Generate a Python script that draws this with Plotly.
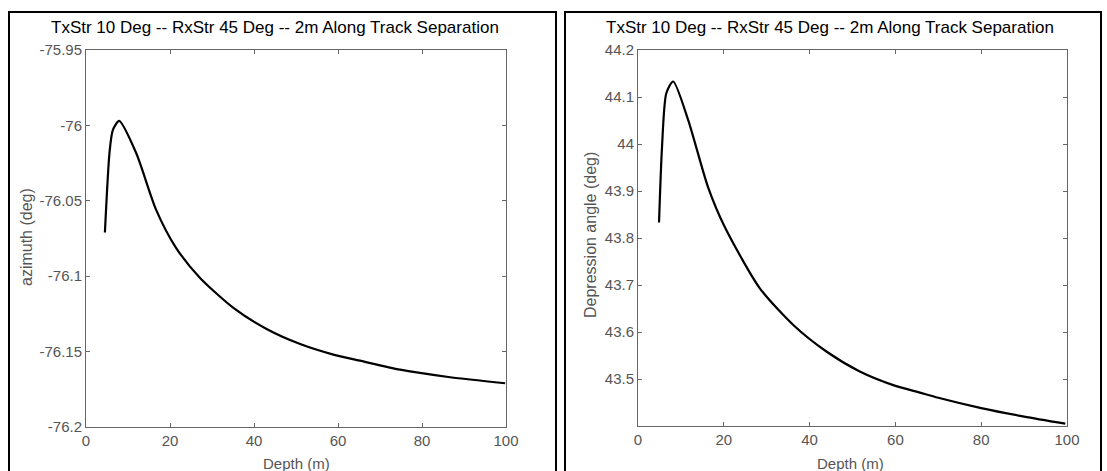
import plotly.graph_objects as go

# values
depth_az = [4.5, 5.6, 6.4, 7.9, 11.9, 16.7, 21.4, 27.1, 35.1, 43.0, 51.0,
            58.9, 65.2, 74.8, 86.7, 99.8]
azimuth = [-76.071, -76.018, -76.003, -75.997, -76.018, -76.056, -76.081, -76.101,
           -76.121, -76.135, -76.145, -76.152, -76.156, -76.162, -76.167, -76.171]

depth_dep = [4.9, 5.6, 6.6, 8.2, 11.7, 16.3, 20.2, 28.4, 36.2, 44.0, 51.7,
             59.5, 65.7, 70.0, 80.0, 90.0, 99.6]
depression = [43.833, 43.994, 44.108, 44.133, 44.051, 43.909, 43.824, 43.693,
              43.615, 43.558, 43.516, 43.487, 43.471, 43.460, 43.438, 43.420,
              43.405]

title = "TxStr 10 Deg -- RxStr 45 Deg -- 2m Along Track Separation"
az_ticks = [-75.95, -76, -76.05, -76.1, -76.15, -76.2]
dep_ticks = [43.5, 43.6, 43.7, 43.8, 43.9, 44, 44.1, 44.2]
x_ticks = [0, 20, 40, 60, 80, 100]

W, H = 1107, 471
font = "Liberation Sans, Arial, sans-serif"
gray = "#555555"


def px(x):
    return x / W


def py(y):
    return 1 - y / H


fig = go.Figure()
fig.add_trace(go.Scatter(x=depth_az, y=azimuth, mode="lines", xaxis="x", yaxis="y",
                         line=dict(color="black", width=2.2, shape="spline", smoothing=0.7)))
fig.add_trace(go.Scatter(x=depth_dep, y=depression, mode="lines", xaxis="x2", yaxis="y2",
                         line=dict(color="black", width=2.2, shape="spline", smoothing=0.7)))

axis_style = dict(showgrid=False, zeroline=False, showline=True, linecolor="#666666",
                  linewidth=1, mirror="ticks", ticks="inside", ticklen=4, tickcolor="#666666",
                  tickfont=dict(family=font, size=15, color=gray))

fig.update_layout(
    width=W, height=H, margin=dict(l=0, r=0, t=0, b=0, autoexpand=False),
    paper_bgcolor="white", plot_bgcolor="white", showlegend=False,
    xaxis=dict(domain=[px(86), px(506)], range=[0, 100], tickvals=x_ticks,
               anchor="y", **axis_style),
    yaxis=dict(domain=[py(427), py(50)], range=[-76.2, -75.95], tickvals=az_ticks,
               ticktext=[str(v) for v in az_ticks], anchor="x", **axis_style),
    xaxis2=dict(domain=[px(638), px(1067)], range=[0, 100], tickvals=x_ticks,
                anchor="y2", **axis_style),
    yaxis2=dict(domain=[py(426), py(50)], range=[43.4, 44.2], tickvals=dep_ticks,
                ticktext=[str(v) for v in dep_ticks], anchor="x2", **axis_style),
)

# panel frames
fig.add_shape(type="rect", xref="paper", yref="paper", x0=px(9), x1=px(556),
              y0=py(472), y1=py(12), line=dict(color="black", width=2))
fig.add_shape(type="rect", xref="paper", yref="paper", x0=px(565), x1=px(1101),
              y0=py(472), y1=py(12), line=dict(color="black", width=2))

ann = []
for cx in (275, 830):
    ann.append(dict(x=px(cx), y=py(28), text=title, showarrow=False,
                    font=dict(family=font, size=17, color="black")))
for cx in (296, 850):
    ann.append(dict(x=px(cx), y=py(463), text="Depth (m)", showarrow=False,
                    font=dict(family=font, size=15, color=gray)))
ann.append(dict(x=px(26), y=py(237), text="azimuth (deg)", textangle=-90,
                showarrow=False, font=dict(family=font, size=16, color=gray)))
ann.append(dict(x=px(590), y=py(235), text="Depression angle (deg)", textangle=-90,
                showarrow=False, font=dict(family=font, size=16, color=gray)))
for a in ann:
    a.update(xref="paper", yref="paper", xanchor="center", yanchor="middle")
fig.update_layout(annotations=ann)

# page has a default body margin; drop it so the figure sits at the corner
fig.write_html("out.html", config={"displayModeBar": False},
               post_script="document.body.style.margin='0';")
